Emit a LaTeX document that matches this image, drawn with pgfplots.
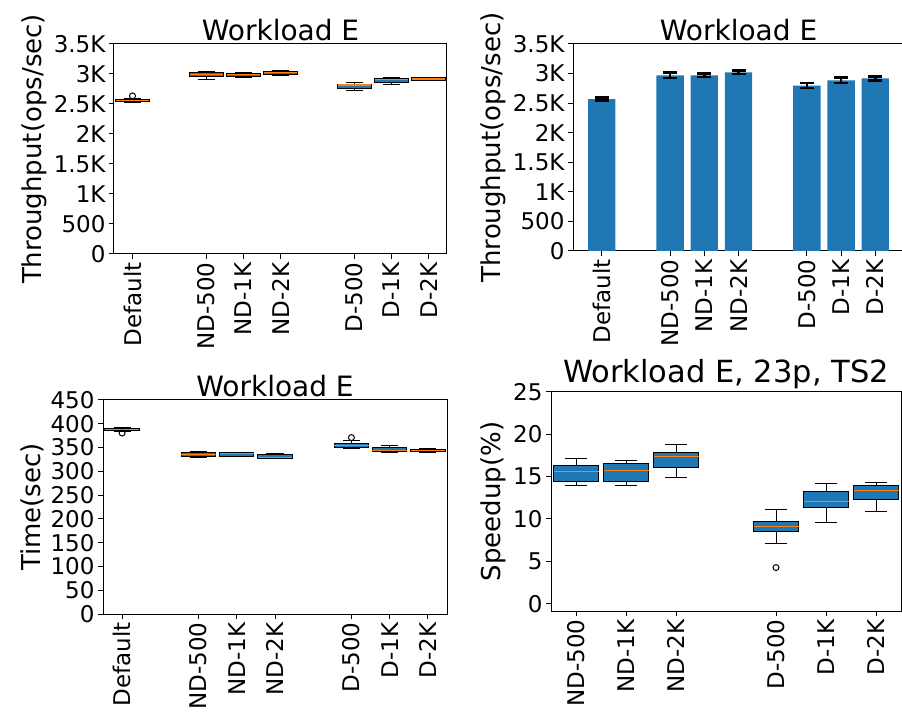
\documentclass[border=0pt]{standalone}
\usepackage{fontspec}
\setmainfont{DejaVu Sans}
\usepackage{pgfplots}
\pgfplotsset{compat=1.18}
\usepgfplotslibrary{statistics}

\definecolor{c0}{HTML}{1F77B4}
\definecolor{c1}{HTML}{FF7F0E}

\newcommand{\ticksize}{\fontsize{23}{27}\selectfont}
\newcommand{\labsize}{\fontsize{26}{30}\selectfont}
\newcommand{\titsize}{\fontsize{28}{32}\selectfont}

\pgfplotsset{
  panel/.style={
    scale only axis, anchor=south west,
    axis line style={black, line width=1pt},
    tick align=outside, tick pos=left,
    major tick length=5pt,
    every tick/.style={black, line width=1pt},
    ticklabel style={font=\ticksize},
    xticklabel style={rotate=90, anchor=east},
    ylabel style={font=\labsize},
    title style={font=\titsize, yshift=-6pt},
  },
  mybox/.style={
    boxplot/draw direction=y, black, line width=1pt,
    boxplot/box extend=0.9, boxplot/whisker extend=0.45,
    boxplot/every box/.style={fill=c0, draw=black},
    boxplot/every median/.style={draw=c1, line width=1.2pt},
    mark=o, mark size=3pt, mark options={draw=black, fill=none, line width=1pt},
  },
}

\begin{document}
\begin{tikzpicture}

% top left: throughput box plots
\begin{axis}[panel, at={(114pt,461pt)}, width=333pt, height=210pt,
  xmin=-0.5, xmax=8.5, ymin=0, ymax=3500,
  xtick={0,2,3,4,6,7,8},
  xticklabels={Default,ND-500,ND-1K,ND-2K,D-500,D-1K,D-2K},
  ytick={0,500,1000,1500,2000,2500,3000,3500},
  yticklabels={0,500,1K,1.5K,2K,2.5K,3K,3.5K},
  ylabel={Throughput(ops/sec)}, title={Workload E}]
\addplot[mybox, boxplot prepared={draw position=0, lower whisker=2530, lower quartile=2545, median=2560, upper quartile=2575, upper whisker=2590}] coordinates {(0,2635)};
\addplot[mybox, boxplot prepared={draw position=2, lower whisker=2912, lower quartile=2958, median=2993, upper quartile=3018, upper whisker=3035}] coordinates {};
\addplot[mybox, boxplot prepared={draw position=3, lower whisker=2947, lower quartile=2958, median=2988, upper quartile=3012, upper whisker=3018}] coordinates {};
\addplot[mybox, boxplot prepared={draw position=4, lower whisker=2982, lower quartile=2994, median=3023, upper quartile=3035, upper whisker=3053}] coordinates {};
\addplot[mybox, boxplot prepared={draw position=6, lower whisker=2724, lower quartile=2764, median=2815, upper quartile=2829, upper whisker=2859}] coordinates {};
\addplot[mybox, boxplot prepared={draw position=7, lower whisker=2817, lower quartile=2859, median=2905, upper quartile=2917, upper whisker=2940}] coordinates {};
\addplot[mybox, boxplot prepared={draw position=8, lower whisker=2888, lower quartile=2894, median=2917, upper quartile=2935, upper whisker=2946}] coordinates {};
\end{axis}

% top right: mean throughput bars
\begin{axis}[panel, at={(573pt,464pt)}, width=331pt, height=207pt,
  xmin=-0.84, xmax=8.84, ymin=0, ymax=3500,
  xtick={0,2,3,4,6,7,8},
  xticklabels={Default,ND-500,ND-1K,ND-2K,D-500,D-1K,D-2K},
  ytick={0,500,1000,1500,2000,2500,3000,3500},
  yticklabels={0,500,1K,1.5K,2K,2.5K,3K,3.5K},
  ylabel={Throughput(ops/sec)}, title={Workload E}]
\addplot[ybar, bar width=0.8, fill=c0, draw=none,
  error bars/.cd, y dir=both, y explicit,
  error bar style={black, line width=2.5pt},
  error mark options={rotate=90, mark size=7pt, line width=2.5pt, black}]
  coordinates {
  (0,2570) +- (0,25)
  (2,2971) +- (0,46)
  (3,2971) +- (0,32)
  (4,3022) +- (0,32)
  (6,2798) +- (0,46)
  (7,2884) +- (0,46)
  (8,2919) +- (0,35)
  };
\end{axis}

% bottom left: time box plots
\begin{axis}[panel, at={(103pt,101pt)}, width=344pt, height=214pt,
  xmin=-0.5, xmax=8.5, ymin=0, ymax=450,
  xtick={0,2,3,4,6,7,8},
  xticklabels={Default,ND-500,ND-1K,ND-2K,D-500,D-1K,D-2K},
  ytick={0,50,100,150,200,250,300,350,400,450},
  yticklabels={0,50,100,150,200,250,300,350,400,450},
  ylabel={Time(sec)}, title={Workload E}]
\addplot[mybox, boxplot prepared={draw position=0, lower whisker=384, lower quartile=385, median=388, upper quartile=391, upper whisker=393}] coordinates {(0,380.5)};
\addplot[mybox, boxplot prepared={draw position=2, lower whisker=329, lower quartile=331, median=334.6, upper quartile=339.5, upper whisker=341.6}] coordinates {};
\addplot[mybox, boxplot prepared={draw position=3, lower whisker=331, lower quartile=331.5, median=336.7, upper quartile=339.5, upper whisker=340}] coordinates {};
\addplot[mybox, boxplot prepared={draw position=4, lower whisker=327, lower quartile=327.5, median=329.6, upper quartile=334.6, upper whisker=336.7}] coordinates {};
\addplot[mybox, boxplot prepared={draw position=6, lower whisker=348.8, lower quartile=351, median=353.6, upper quartile=359, upper whisker=364.8}] coordinates {(0,371)};
\addplot[mybox, boxplot prepared={draw position=7, lower whisker=339.5, lower quartile=341, median=344.6, upper quartile=350, upper whisker=354.3}] coordinates {};
\addplot[mybox, boxplot prepared={draw position=8, lower whisker=339, lower quartile=341, median=343.9, upper quartile=346.6, upper whisker=347}] coordinates {};
\end{axis}

% bottom right: speedup box plots
\begin{axis}[panel, at={(551pt,104pt)}, width=350pt, height=219pt,
  xmin=-0.5, xmax=6.5, ymin=-0.87, ymax=25,
  xtick={0,1,2,4,5,6},
  xticklabels={ND-500,ND-1K,ND-2K,D-500,D-1K,D-2K},
  ytick={0,5,10,15,20,25},
  yticklabels={0,5,10,15,20,25},
  ylabel={Speedup(\%)}, title={Workload E, 23p, TS2},
  title style={font=\fontsize{30.5}{34}\selectfont}]
\addplot[mybox, boxplot prepared={draw position=0, lower whisker=13.95, lower quartile=14.45, median=15.6, upper quartile=16.35, upper whisker=17.2}] coordinates {};
\addplot[mybox, boxplot prepared={draw position=1, lower whisker=13.95, lower quartile=14.45, median=15.7, upper quartile=16.6, upper whisker=16.95}] coordinates {};
\addplot[mybox, boxplot prepared={draw position=2, lower whisker=14.9, lower quartile=16.1, median=17.35, upper quartile=17.9, upper whisker=18.8}] coordinates {};
\addplot[mybox, boxplot prepared={draw position=4, lower whisker=7.1, lower quartile=8.5, median=9.15, upper quartile=9.7, upper whisker=11.07}] coordinates {(0,4.26)};
\addplot[mybox, boxplot prepared={draw position=5, lower whisker=9.6, lower quartile=11.3, median=12.1, upper quartile=13.3, upper whisker=14.2}] coordinates {};
\addplot[mybox, boxplot prepared={draw position=6, lower whisker=10.9, lower quartile=12.3, median=13.35, upper quartile=13.95, upper whisker=14.27}] coordinates {};
\end{axis}

\pgfresetboundingbox
\useasboundingbox (0,0) rectangle (902pt,715pt);
\end{tikzpicture}
\end{document}
